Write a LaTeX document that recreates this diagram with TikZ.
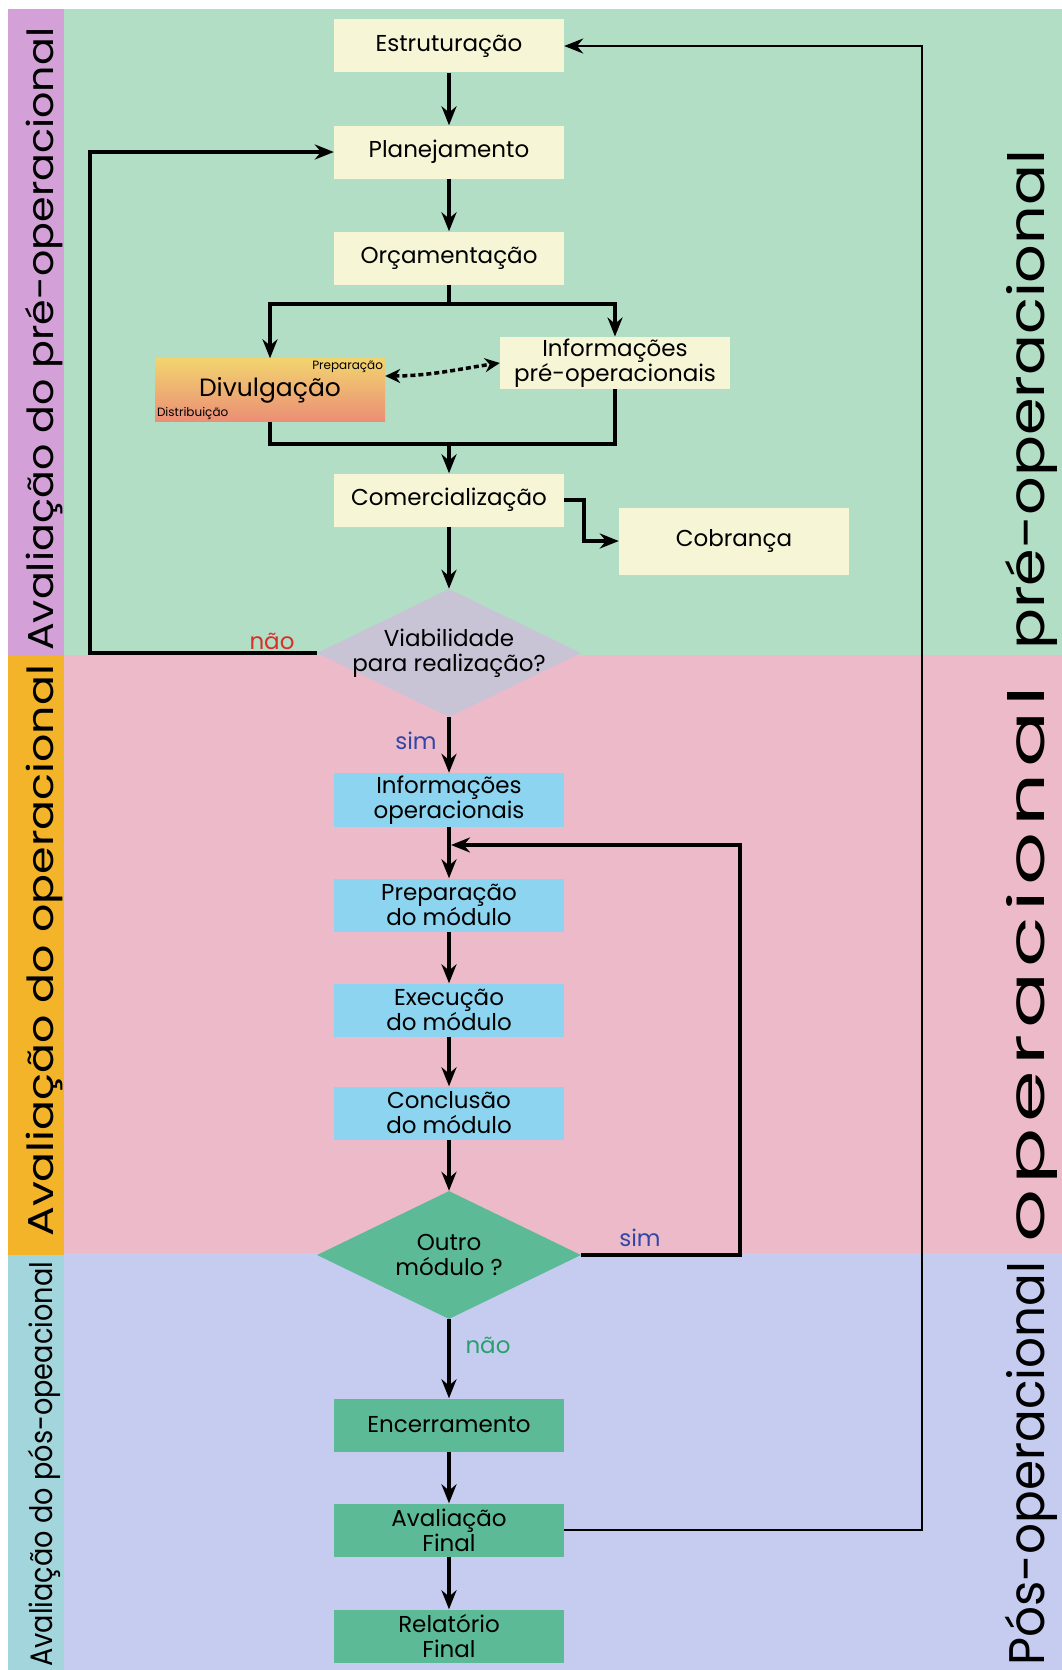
\documentclass[tikz,border=0pt]{standalone}
\usepackage{fontspec}
\setmainfont{Poppins}
\usetikzlibrary{arrows.meta,shapes.geometric}

\definecolor{bgpre}{RGB}{178,222,198}
\definecolor{bgop}{RGB}{237,186,201}
\definecolor{bgpos}{RGB}{198,204,240}
\definecolor{bandpre}{RGB}{211,161,216}
\definecolor{bandop}{RGB}{244,180,42}
\definecolor{bandpos}{RGB}{163,214,220}
\definecolor{cream}{RGB}{246,245,214}
\definecolor{skyblue}{RGB}{140,212,240}
\definecolor{boxgreen}{RGB}{92,186,150}
\definecolor{diamgrey}{RGB}{200,196,214}
\definecolor{divtop}{RGB}{242,212,110}
\definecolor{divmid}{RGB}{246,222,190}
\definecolor{divbot}{RGB}{235,142,118}
\definecolor{labred}{RGB}{214,48,40}
\definecolor{labblue}{RGB}{50,70,170}
\definecolor{labgreen}{RGB}{40,160,110}

% text stretched along its baseline to a given length
\newcommand{\stretchto}[2]{\resizebox{#1}{\height}{#2}}
% letters spread apart
\newcommand{\spreadtext}[1]{\spreadA#1\relax}
\def\spreadA#1{#1\spreadB}
\def\spreadB#1{\ifx\relax#1\else\hss#1\expandafter\spreadB\fi}

\newcommand{\boxfont}{\fontsize{23}{25}\selectfont}

\tikzset{
    flowbox/.style={rectangle, minimum width=230pt, minimum height=53pt, inner sep=2pt, align=center, font=\boxfont},
    prebox/.style={flowbox, fill=cream},
    opbox/.style={flowbox, fill=skyblue},
    posbox/.style={flowbox, fill=boxgreen},
    decision/.style={diamond, inner sep=0pt, minimum width=264pt, minimum height=128pt},
    bandtext/.style={rotate=90, anchor=base west, inner sep=0pt, font=\fontsize{36}{40}\selectfont},
    sidetext/.style={rotate=90, anchor=base west, inner sep=0pt, font=\fontsize{50}{54}\selectfont},
    subtag/.style={inner sep=2pt, font=\fontsize{12}{14}\selectfont},
    lab/.style={inner sep=0pt, font=\boxfont},
    link/.style={line width=3.5pt},
    flow/.style={line width=3.5pt, line join=miter, -{Stealth[length=19pt,width=15pt]}},
    flowthin/.style={line width=2.5pt, line join=miter, -{Stealth[length=19pt,width=15pt]}},
    dotflow/.style={line width=3.5pt, dash pattern=on 5pt off 3pt, {Stealth[length=15pt,width=14pt]}-{Stealth[length=15pt,width=14pt]}}
}

\begin{document}
\begin{tikzpicture}[x=1pt,y=-1pt]
    \useasboundingbox (0,0) rectangle (1062,1670);
    % phases
    \fill[white] (0,0) rectangle (1062,1670);
    \fill[bgpre] (64,9) rectangle (1062,655);
    \fill[bgop] (64,655) rectangle (1062,1253);
    \fill[bgpos] (64,1253) rectangle (1062,1670);
    \fill[bandpre] (8,9) rectangle (64,655);
    \fill[bandop] (8,655) rectangle (64,1255);
    \fill[bandpos] (8,1255) rectangle (64,1670);

    \node[bandtext] (avpre) at (53,651) {\stretchto{623pt}{Avaliação do pré-operacional}};
    \node[bandtext] (avop) at (53,1237) {\stretchto{572pt}{Avaliação do operacional}};
    \node[bandtext, font=\fontsize{31}{34}\selectfont] (avpos) at (52,1667) {\stretchto{405pt}{Avaliação do pós-opeacional}};

    \node[sidetext] (fasepre) at (1044,650) {\stretchto{500pt}{pré-operacional}};
    \node[sidetext] (faseop) at (1044,1243) {\stretchto{557pt}{\hbox to 335pt{\spreadtext{operacional}}}};
    \node[sidetext] (fasepos) at (1044,1666) {\stretchto{404pt}{Pós-operacional}};

    % flow
    \node[prebox] (estr) at (449,46) {Estruturação};
    \node[prebox] (plan) at (449,152) {Planejamento};
    \node[prebox] (orc) at (449,258) {Orçamentação};
    \node[flowbox, minimum height=63pt, top color=divtop, middle color=divmid, bottom color=divbot,
          font=\fontsize{25}{28}\selectfont] (div) at (270,390) {Divulgação};
    \node[subtag, anchor=north east] (divprep) at (div.north east) {Preparação};
    \node[subtag, anchor=south west] (divdist) at (div.south west) {Distribuição};
    \node[prebox, minimum height=52pt] (infpre) at (615,363) {Informações\\pré-operacionais};
    \node[prebox] (com) at (449,500) {Comercialização};
    \node[prebox, minimum height=67pt] (cob) at (734,541) {Cobrança};
    \node[decision, fill=diamgrey, label={[font=\boxfont, align=center]center:Viabilidade\\para realização?}] (viab) at (449,653) {};
    \node[opbox, minimum height=54pt] (infop) at (449,800) {Informações\\operacionais};
    \node[opbox] (prep) at (449,905) {Preparação\\do módulo};
    \node[opbox] (exec) at (449,1010) {Execução\\do módulo};
    \node[opbox] (conc) at (449,1113) {Conclusão\\do módulo};
    \node[decision, fill=boxgreen, label={[font=\boxfont, align=center]center:Outro\\módulo ?}] (outro) at (449,1255) {};
    \node[posbox] (ence) at (449,1425) {Encerramento};
    \node[posbox] (avfin) at (449,1530) {Avaliação\\Final};
    \node[posbox] (relat) at (449,1636) {Relatório\\Final};

    \node[lab, text=labred] (nao1) at (272,641) {não};
    \node[lab, text=labblue] (sim1) at (416,741) {sim};
    \node[lab, text=labblue] (sim2) at (640,1238) {sim};
    \node[lab, text=labgreen] (nao2) at (488,1345) {não};

    \coordinate (split) at (449,304);
    \coordinate (merge) at (449,444);
    \coordinate (railL) at (90,0);
    \coordinate (railS) at (740,0);
    \coordinate (railR) at (922,0);
    \coordinate (loopin) at (451,845);

    \draw[flow] (estr) -- (plan);
    \draw[flow] (plan) -- (orc);
    \draw[link] (orc.south) -- (split);
    \draw[flow] (split) -| (div.north);
    \draw[flow] (split) -| (infpre.north);
    \draw[link] (div.south) |- (merge);
    \draw[link] (infpre.south) |- (merge);
    \draw[flow] (merge) -- (com.north);
    \draw[dotflow] ([yshift=14pt]div.east) .. controls +(45,0) and +(-35,5) .. (infpre.west);
    \draw[flow] (com.east) -- ++(20,0) |- (cob.west);
    \draw[flow] (com) -- (viab);
    \draw[flow] (viab.west) -- (viab.west -| railL) |- (plan.west);
    \draw[flow] (viab) -- (infop);
    \draw[flow] (infop) -- (prep);
    \draw[flow] (prep) -- (exec);
    \draw[flow] (exec) -- (conc);
    \draw[flow] (conc) -- (outro);
    \draw[flow] (outro.east) -- (outro.east -| railS) |- (loopin);
    \draw[flow] (outro) -- (ence);
    \draw[flow] (ence) -- (avfin);
    \draw[flow] (avfin) -- (relat);
    \draw[flowthin] (avfin.east) -- (avfin.east -| railR) |- (estr.east);
\end{tikzpicture}
\end{document}
